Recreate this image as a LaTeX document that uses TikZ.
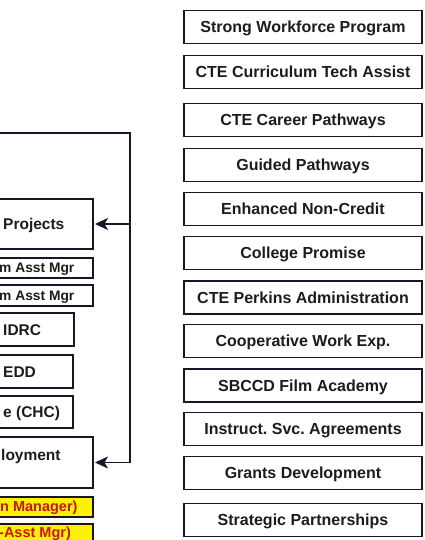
\documentclass[tikz,border=0pt]{standalone}
\usepackage{fontspec}
\setmainfont{Liberation Sans}
\usetikzlibrary{arrows.meta}
\definecolor{edge}{RGB}{22,22,40}
\definecolor{ink}{RGB}{28,28,30}
\definecolor{mgr}{RGB}{200,20,20}
\frenchspacing

\begin{document}
\begin{tikzpicture}[x=1pt, y=-1pt,
    rbox/.style={draw=edge, line width=1.8pt, fill=white, minimum width=238pt, minimum height=33pt, inner sep=0pt, text height=11.5pt, text depth=0pt, text=ink, font=\fontsize{16}{19}\selectfont\bfseries},
    lbox/.style={draw=edge, line width=1.8pt, fill=white, anchor=east, inner sep=0pt},
    ybox/.style={lbox, fill=yellow},
    ltxt/.style={anchor=west, inner sep=0pt, text height=11pt, text depth=0pt, text=ink, font=\fontsize{15.5}{18}\selectfont\bfseries},
    stxt/.style={ltxt, text height=9.8pt, font=\fontsize{13.8}{16}\selectfont\bfseries},
    ytxt/.style={stxt, text=mgr, font=\fontsize{14.5}{17}\selectfont\bfseries},
    feed/.style={draw=edge, line width=1.6pt},
    tip/.style={feed, shorten >=1pt, -{Stealth[length=13pt, width=12pt, inset=3.5pt]}}]
  \useasboundingbox (0,0) rectangle (424,540);
  \clip (0,0) rectangle (424,540);

  \foreach \y/\t [count=\i] in {27/Strong Workforce Program, 72/CTE Curriculum Tech Assist,
      120/CTE Career Pathways, 165/Guided Pathways, 209/Enhanced Non-Credit,
      253/College Promise, 297.5/CTE Perkins Administration, 341/Cooperative Work Exp.,
      385.5/SBCCD Film Academy, 429/Instruct. Svc. Agreements, 473/Grants Development,
      520/Strategic Partnerships}
    \node[rbox] (r\i) at (303,\y) {\t};

  \node[lbox, minimum width=124pt, minimum height=50pt] (proj) at (94,224) {};
  \node[lbox, minimum width=124pt, minimum height=20pt] (asst1) at (94,268) {};
  \node[lbox, minimum width=124pt, minimum height=21pt] (asst2) at (94,295.5) {};
  \node[lbox, minimum width=105pt, minimum height=33pt] (idrc) at (75,329.5) {};
  \node[lbox, minimum width=104pt, minimum height=33pt] (edd) at (74,371.5) {};
  \node[lbox, minimum width=104pt, minimum height=32pt] (chc) at (74,412) {};
  \node[lbox, minimum width=124pt, minimum height=51pt] (emp) at (94,462.5) {};
  \node[ybox, minimum width=124pt, minimum height=20pt] (mgr1) at (94,507) {};
  \node[ybox, minimum width=124pt, minimum height=22pt] (mgr2) at (94,535) {};

  \node[ltxt] (projt) at (3,224) {Projects};
  \node[stxt] (asst1t) at (-1,268) {m Asst Mgr};
  \node[stxt] (asst2t) at (-1,295.5) {m Asst Mgr};
  \node[ltxt] (idrct) at (3,329.5) {IDRC};
  \node[ltxt] (eddt) at (3,371.5) {EDD};
  \node[ltxt] (chct) at (3,412) {e (CHC)};
  \node[ltxt] (empt) at (1,455) {loyment};
  \node[ytxt] (mgr1t) at (0,507) {n Manager)};
  \node[ytxt] (mgr2t) at (-1,533) {-Asst Mgr)};

  \coordinate (src) at (-5,133);
  \coordinate (bus) at (130,133);
  \draw[tip] (src) -| (bus |- emp.east) -- (emp.east);
  \draw[tip] (bus |- proj.east) -- (proj.east);
\end{tikzpicture}
\end{document}
